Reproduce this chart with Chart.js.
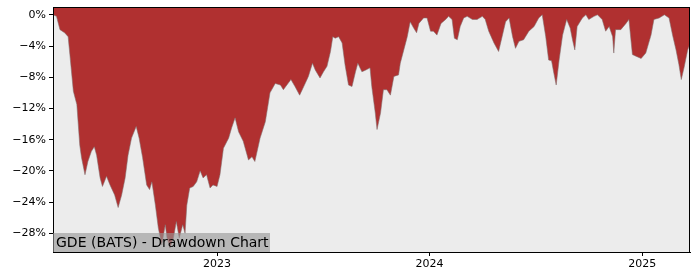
<!DOCTYPE html>
<html lang="en">
<head>
<meta charset="UTF-8"/>
<title>GDE Drawdown</title>
<script src="https://cdn.jsdelivr.net/npm/chart.js"></script>
<style>
	body { margin: 0; background: #fff; }
	#wrap { position: relative; width: 700px; height: 280px; }
	#label {
		position: absolute; left: 53px; top: 233px; height: 19px; width: 217px;
		background: rgba(150,150,150,0.62); color: #000;
		font: 14px "DejaVu Sans", sans-serif; line-height: 19px; padding-left: 3px; box-sizing: border-box;
	}
</style>
<script>
	// drawdown readings (percent), one per date
	const dates = [
		"2022-03-25","2022-03-31","2022-04-06","2022-04-14","2022-04-20","2022-04-23","2022-04-29","2022-05-05",
		"2022-05-10","2022-05-13","2022-05-19","2022-05-24","2022-05-30","2022-06-04","2022-06-08","2022-06-14",
		"2022-06-18","2022-06-25","2022-07-01","2022-07-09","2022-07-15","2022-07-21","2022-07-27","2022-08-01",
		"2022-08-07","2022-08-15","2022-08-20","2022-08-26","2022-09-02","2022-09-07","2022-09-11","2022-09-17",
		"2022-09-22","2022-09-28","2022-10-04","2022-10-07","2022-10-12","2022-10-18","2022-10-23","2022-10-28",
		"2022-11-03","2022-11-07","2022-11-10","2022-11-15","2022-11-21","2022-11-27","2022-12-03","2022-12-08",
		"2022-12-14","2022-12-20","2022-12-25","2023-01-01","2023-01-06","2023-01-12","2023-01-21","2023-01-26",
		"2023-02-01","2023-02-07","2023-02-15","2023-02-24","2023-03-02","2023-03-07","2023-03-16","2023-03-25",
		"2023-04-02","2023-04-11","2023-04-20","2023-04-25","2023-05-01","2023-05-08","2023-05-15","2023-05-23",
		"2023-05-30","2023-06-07","2023-06-14","2023-06-19","2023-06-27","2023-07-03","2023-07-09","2023-07-15",
		"2023-07-19","2023-07-23","2023-07-29","2023-08-04","2023-08-09","2023-08-15","2023-08-21","2023-08-27",
		"2023-08-31","2023-09-07","2023-09-13","2023-09-21","2023-09-24","2023-09-30","2023-10-03","2023-10-09",
		"2023-10-14","2023-10-20","2023-10-26","2023-11-01","2023-11-09","2023-11-12","2023-11-18","2023-11-24",
		"2023-11-29","2023-12-05","2023-12-10","2023-12-14","2023-12-22","2023-12-28","2024-01-03","2024-01-08",
		"2024-01-14","2024-01-21","2024-01-29","2024-02-03","2024-02-09","2024-02-13","2024-02-18","2024-02-23",
		"2024-02-29","2024-03-06","2024-03-15","2024-03-23","2024-04-01","2024-04-06","2024-04-12","2024-04-21",
		"2024-04-29","2024-05-05","2024-05-11","2024-05-17","2024-05-23","2024-05-28","2024-06-03","2024-06-11",
		"2024-06-20","2024-06-29","2024-07-07","2024-07-13","2024-07-19","2024-07-24","2024-07-29","2024-08-02",
		"2024-08-06","2024-08-11","2024-08-17","2024-08-24","2024-08-30","2024-09-03","2024-09-07","2024-09-11",
		"2024-09-20","2024-09-26","2024-10-01","2024-10-10","2024-10-16","2024-10-24","2024-10-30","2024-11-05",
		"2024-11-11","2024-11-13","2024-11-16","2024-11-25","2024-12-04","2024-12-09","2024-12-15","2024-12-21",
		"2024-12-30","2025-01-07","2025-01-16","2025-01-21","2025-01-30","2025-02-08","2025-02-16","2025-02-22",
		"2025-02-28","2025-03-05","2025-03-09","2025-03-14","2025-03-20","2025-03-24"
	];
	const drawdown = [
		0, -0.2, -1.9, -2.3, -2.8, -5.1, -9.8, -11.5,
		-16.7, -18.3, -20.5, -18.8, -17.5, -16.9, -18.0, -20.9,
		-22.0, -20.7, -21.8, -23.1, -24.7, -23.1, -20.9, -18.0,
		-15.8, -14.3, -15.8, -18.3, -21.8, -22.4, -21.4, -24.4,
		-27.3, -29.5, -26.9, -28.6, -29.9, -28.6, -26.5, -28.6,
		-26.9, -28.0, -24.4, -22.2, -22.0, -21.4, -20.0, -20.9,
		-20.5, -22.2, -21.8, -22.0, -20.5, -17.1, -15.8, -14.5,
		-13.2, -15.0, -16.2, -18.6, -18.2, -18.8, -15.8, -13.7,
		-10.0, -8.8, -9.0, -9.6, -9.0, -8.3, -9.2, -10.3,
		-9.2, -7.9, -6.2, -7.1, -8.1, -7.3, -6.6, -4.7,
		-2.8, -3.0, -2.8, -3.6, -6.4, -9.0, -9.2, -7.3,
		-6.2, -7.3, -7.1, -6.8, -9.2, -12.6, -14.7, -12.6,
		-9.6, -9.6, -10.3, -7.9, -7.7, -6.2, -4.5, -2.8,
		-0.9, -1.7, -2.3, -1.1, -0.4, -0.4, -2.1, -2.1,
		-2.6, -1.1, -0.6, -0.2, -0.6, -3.0, -3.2, -1.5,
		-0.4, -0.2, -0.6, -0.6, -0.2, -0.6, -2.1, -3.6,
		-4.7, -2.8, -0.9, -0.4, -2.8, -4.3, -3.4, -3.2,
		-2.1, -1.5, -0.4, 0, -2.8, -5.8, -5.9, -7.5,
		-9.0, -5.8, -2.6, -0.6, -1.7, -3.2, -4.5, -1.5,
		-0.4, 0, -0.6, -0.2, 0, -0.6, -2.1, -1.5,
		-2.8, -4.9, -1.9, -1.9, -1.1, -0.6, -5.1, -5.3,
		-5.6, -4.9, -2.6, -0.6, -0.4, 0, -0.4, -2.6,
		-4.5, -6.4, -8.3, -6.7, -4.5, -3.7
	];
	const yTicks = [0, -4, -8, -12, -16, -20, -24, -28];
	const xTickYears = [2023, 2024, 2025];
	const title = "GDE (BATS) - Drawdown Chart";

	const plotFrame = {
		id: 'plotFrame',
		beforeDraw(chart) {
			const a = chart.chartArea, c = chart.ctx;
			c.save();
			c.fillStyle = '#ececec';
			c.fillRect(a.left, a.top, a.right - a.left, a.bottom - a.top);
			c.restore();
		},
		afterDraw(chart) {
			const a = chart.chartArea, c = chart.ctx;
			c.save();
			c.strokeStyle = '#000';
			c.lineWidth = 1;
			c.strokeRect(a.left + 0.5, a.top + 0.5, a.right - a.left - 1, a.bottom - a.top);
			c.restore();
		}
	};

	window.addEventListener("load", function() {
		document.getElementById("label").textContent = title;
		const points = dates.map((d, i) => ({ x: Date.parse(d + "T00:00:00Z"), y: drawdown[i] }));
		const tickFont = { family: "DejaVu Sans", size: 11 };
		new Chart(document.getElementById("ddChart"), {
			type: 'line',
			data: {
				datasets: [{
					data: points,
					fill: 'end',
					backgroundColor: '#b03030',
					borderColor: 'rgba(130,110,110,0.7)',
					borderWidth: 0.8,
					pointRadius: 0,
					tension: 0
				}]
			},
			options: {
				animation: false,
				responsive: false,
				plugins: { legend: { display: false }, tooltip: { enabled: false } },
				layout: { padding: { top: 7, right: 10, left: 0, bottom: 0 } },
				scales: {
					x: {
						type: 'linear',
						min: points[0].x,
						max: points[points.length - 1].x,
						afterBuildTicks: axis => { axis.ticks = xTickYears.map(y => ({ value: Date.UTC(y, 0, 1) })); },
						afterFit: axis => { axis.height = 28; axis.paddingLeft = 0; axis.paddingRight = 0; },
						ticks: {
							callback: v => String(new Date(v).getUTCFullYear()),
							color: '#000', font: tickFont, padding: 2, maxRotation: 0, autoSkip: false
						},
						grid: { drawOnChartArea: false, drawTicks: true, tickLength: 4, color: '#000' },
						border: { color: '#000' }
					},
					y: {
						min: -30.4,
						max: 1.0,
						afterBuildTicks: axis => { axis.ticks = yTicks.map(v => ({ value: v })); },
						afterFit: axis => { axis.width = 53; axis.paddingTop = 0; axis.paddingBottom = 0; },
						ticks: {
							callback: v => (v < 0 ? '\u2212' + Math.abs(v) : v) + '%',
							color: '#000', font: tickFont, padding: 3
						},
						grid: { drawOnChartArea: false, drawTicks: true, tickLength: 4, color: '#000' },
						border: { color: '#000' }
					}
				}
			},
			plugins: [plotFrame]
		});
	}, false);
</script>
</head>
<body>
	<div id="wrap">
		<canvas id="ddChart" width="700" height="280"></canvas>
		<div id="label"></div>
	</div>
</body>
</html>
